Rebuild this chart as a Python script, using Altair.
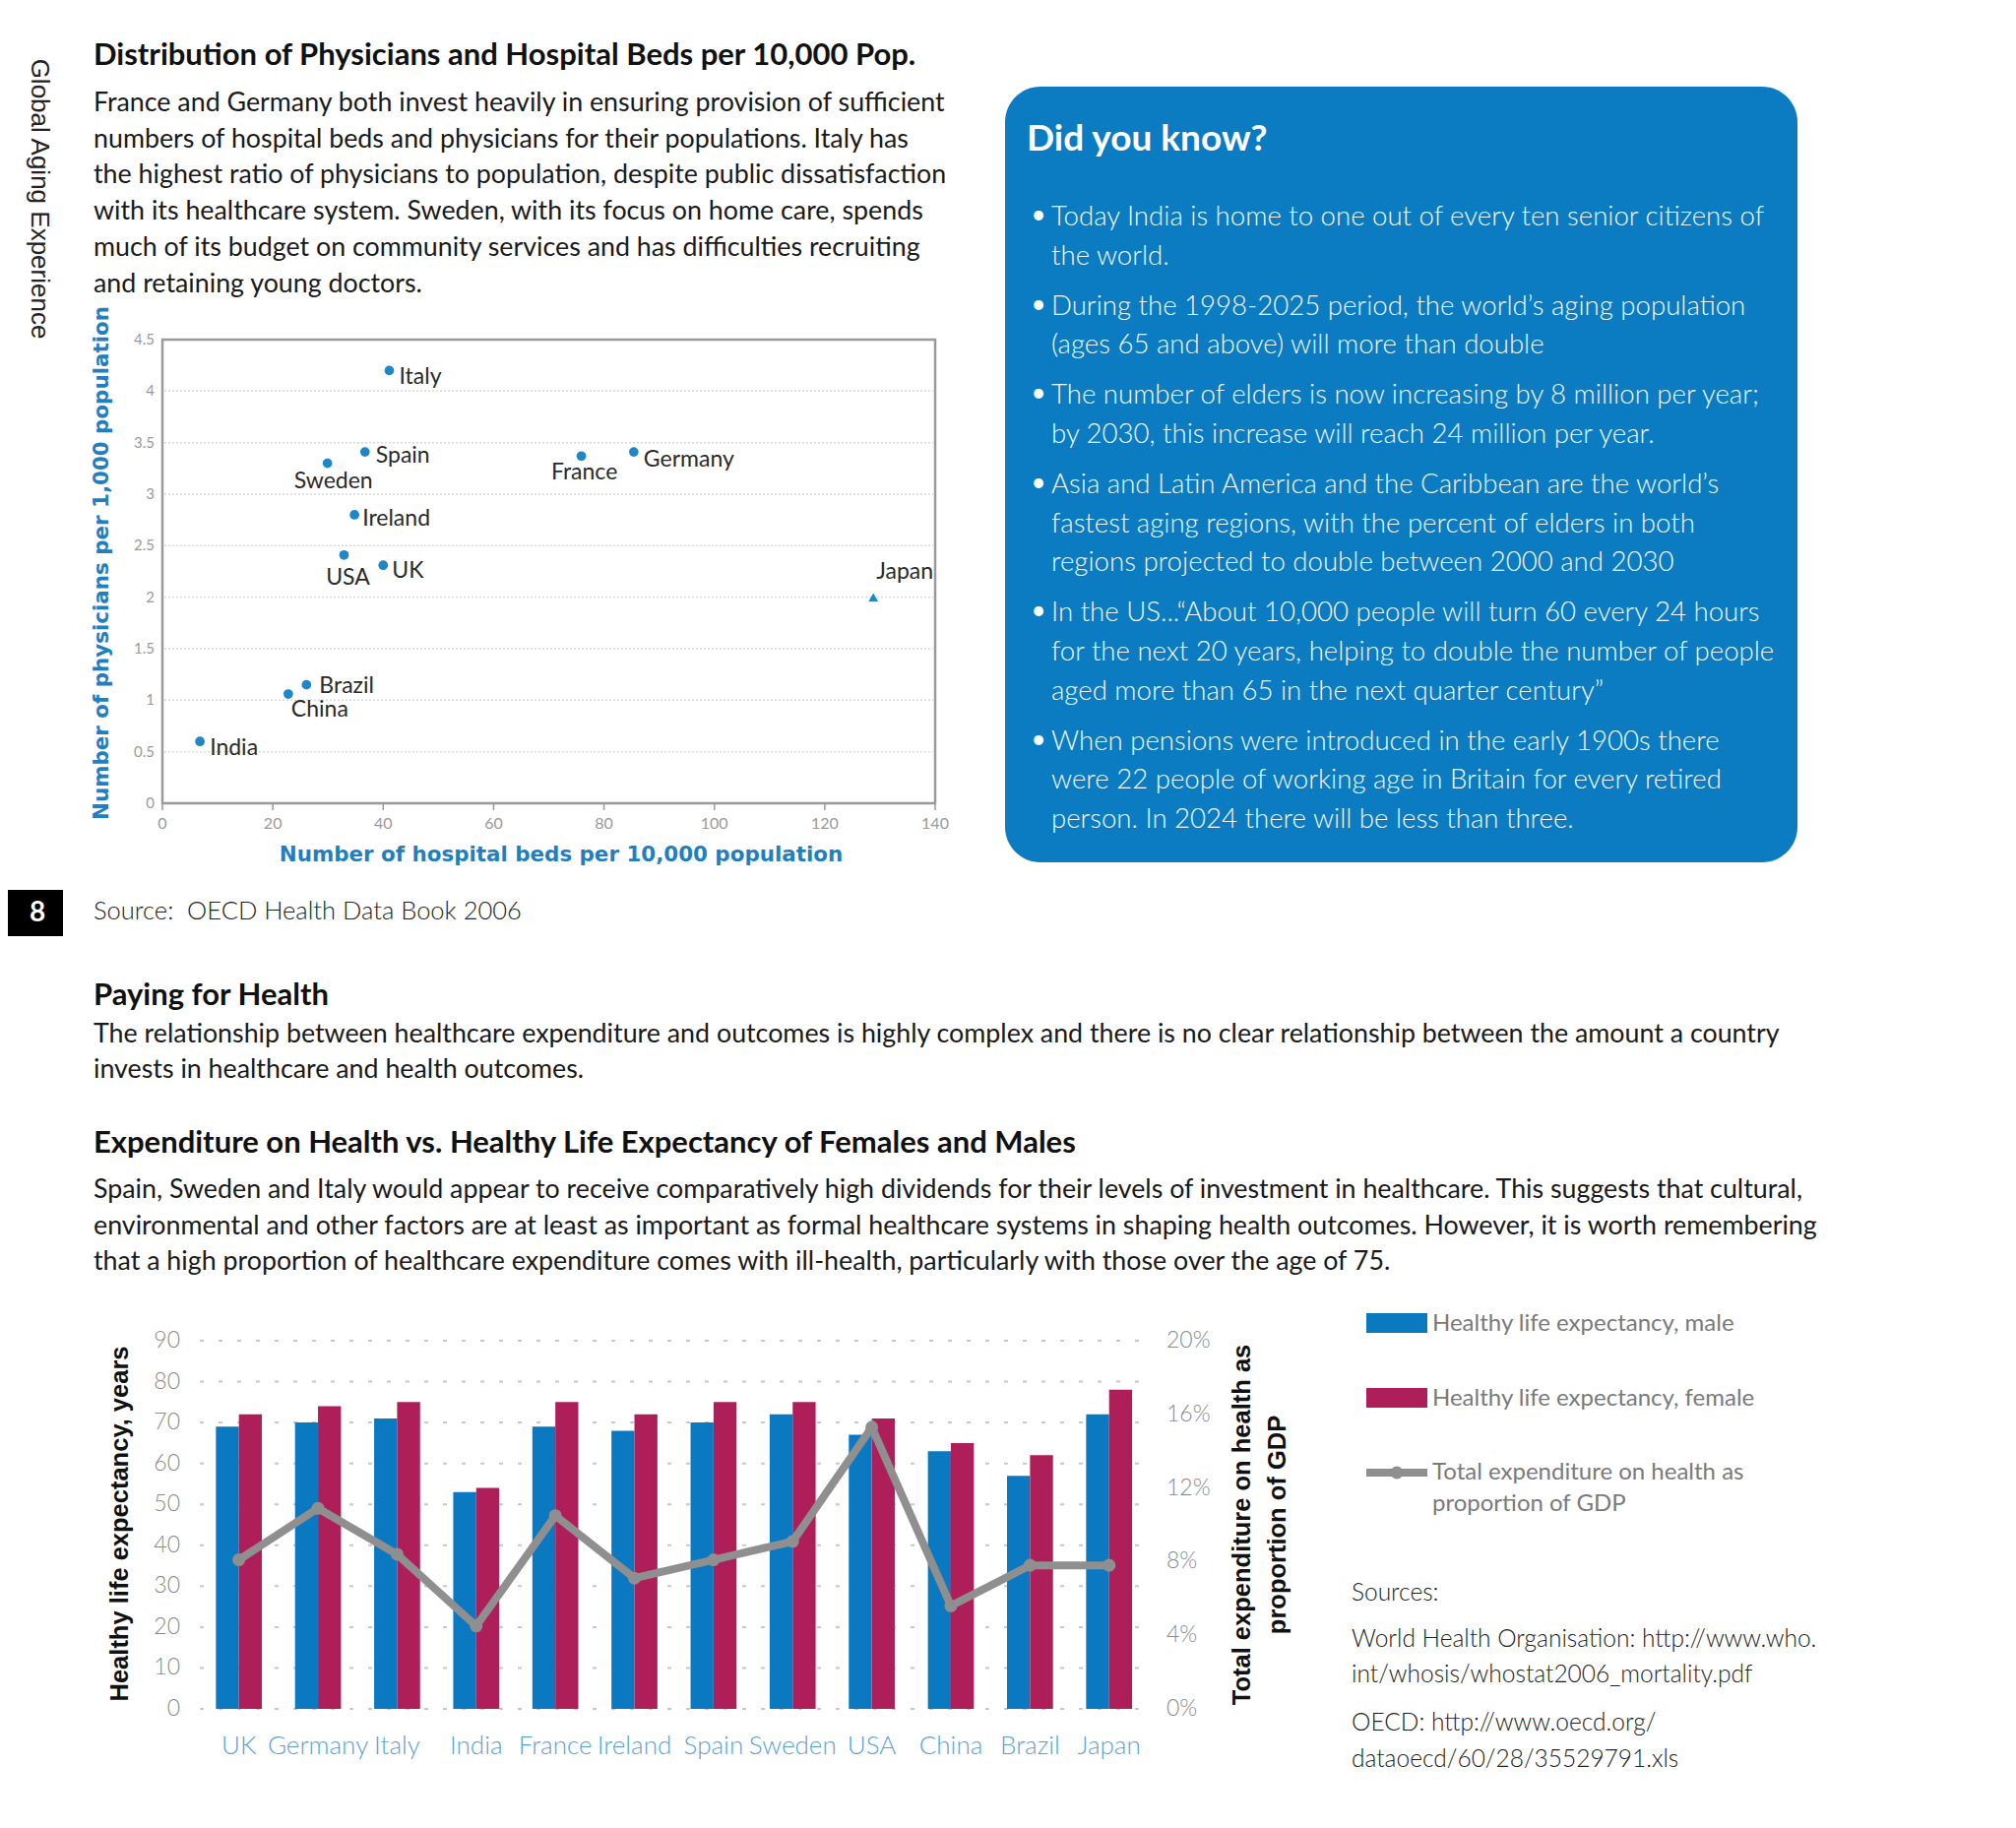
import altair as alt
import pandas as pd

# ---------------- data: physicians vs hospital beds ----------------
sc_country = ["Italy", "Spain", "Sweden", "France", "Germany", "Ireland",
              "USA", "UK", "Japan", "Brazil", "China", "India"]
sc_beds = [41.1, 36.7, 29.9, 75.9, 85.4, 34.8, 32.9, 40.0, 128.8, 26.1, 22.8, 6.8]
sc_phys = [4.20, 3.41, 3.30, 3.37, 3.41, 2.80, 2.41, 2.31, 2.00, 1.15, 1.06, 0.60]
sc_marker = ["circle"] * 8 + ["triangle-up"] + ["circle"] * 3
sc_xticks = [0, 20, 40, 60, 80, 100, 120, 140]
sc_yticks = [0, 0.5, 1, 1.5, 2, 2.5, 3, 3.5, 4, 4.5]
sc_ylabels = ["0", "0.5", "1", "1.5", "2", "2.5", "3", "3.5", "4", "4.5"]

# ---------------- data: life expectancy vs expenditure ----------------
countries = ["UK", "Germany", "Italy", "India", "France", "Ireland",
             "Spain", "Sweden", "USA", "China", "Brazil", "Japan"]
hle_male = [69, 70, 71, 53, 69, 68, 70, 72, 67, 63, 57, 72]
hle_female = [72, 74, 75, 54, 75, 72, 75, 75, 71, 65, 62, 78]
health_exp = [8.1, 10.9, 8.4, 4.5, 10.5, 7.1, 8.1, 9.1, 15.3, 5.6, 7.8, 7.8]
bar_yticks = [0, 10, 20, 30, 40, 50, 60, 70, 80, 90]
exp_ticks = [0, 4, 8, 12, 16, 20]

# ---------------- styling ----------------
M = 8  # page margin
BLUE = "#0a79c2"
RED = "#ae1f5a"
BOX = "#0b7cc2"
GRAY = "#8f8f8f"
DOT = "#1d87c8"
TITLEBLUE = "#1f7fc0"
FONT = "Lato"
BODY = 26.8
HEAD = 31


def T(s, x, y, size=BODY, weight="normal", color="#1a1a1a", font=FONT,
      align="left", angle=0, baseline="middle"):
    kw = dict(align=align, baseline=baseline, font=font, fontSize=size,
              fontWeight=weight, color=color)
    if angle:
        kw["angle"] = angle
    return alt.Chart(pd.DataFrame({"t": [s]})).mark_text(**kw).encode(
        x=alt.value(x - M), y=alt.value(y - M), text="t:N")


def R(x, x2, y, y2, color, **kw):
    return alt.Chart(pd.DataFrame({"a": [0]})).mark_rect(color=color, **kw).encode(
        x=alt.value(x - M), x2=alt.value(x2 - M), y=alt.value(y - M), y2=alt.value(y2 - M))


layers = []

# ---------------- page texts ----------------
layers.append(T("Global Aging Experience", 40, 202, size=26, color="#222",
                font="Liberation Sans", align="center", angle=90))
layers.append(T("Distribution of Physicians and Hospital Beds per 10,000 Pop.", 95, 57,
                size=HEAD, weight="bold", color="#111"))
para1 = [
    "France and Germany both invest heavily in ensuring provision of sufficient",
    "numbers of hospital beds and physicians for their populations. Italy has",
    "the highest ratio of physicians to population, despite public dissatisfaction",
    "with its healthcare system. Sweden, with its focus on home care, spends",
    "much of its budget on community services and has difficulties recruiting",
    "and retaining young doctors.",
]
for i, s in enumerate(para1):
    layers.append(T(s, 95, 105 + i * 36.7))

# page number box and source
layers.append(R(8, 64, 904, 951, "#000000"))
layers.append(T("8", 38, 928, size=28, weight="bold", color="white", align="center"))
layers.append(T("Source:\u00a0 OECD Health Data Book 2006", 95, 926, size=25.5, weight=300, color="#222"))

layers.append(T("Paying for Health", 95, 1012, size=HEAD, weight="bold", color="#111"))
layers.append(T("The relationship between healthcare expenditure and outcomes is highly complex and there is no clear relationship between the amount a country",
                95, 1051))
layers.append(T("invests in healthcare and health outcomes.", 95, 1087))

layers.append(T("Expenditure on Health vs. Healthy Life Expectancy of Females and Males", 95, 1162,
                size=HEAD, weight="bold", color="#111"))
para2 = [
    "Spain, Sweden and Italy would appear to receive comparatively high dividends for their levels of investment in healthcare. This suggests that cultural,",
    "environmental and other factors are at least as important as formal healthcare systems in shaping health outcomes. However, it is worth remembering",
    "that a high proportion of healthcare expenditure comes with ill-health, particularly with those over the age of 75.",
]
for i, s in enumerate(para2):
    layers.append(T(s, 95, 1209 + i * 36.5))

# ---------------- "Did you know?" box ----------------
layers.append(R(1021, 1826, 88, 876, BOX, cornerRadius=36))
layers.append(T("Did you know?", 1043, 142, size=37, weight="bold", color="white"))
bullets = [
    ["Today India is home to one out of every ten senior citizens of", "the world."],
    ["During the 1998-2025 period, the world\u2019s aging population",
     "(ages 65 and above) will more than double"],
    ["The number of elders is now increasing by 8 million per year;",
     "by 2030, this increase will reach 24 million per year."],
    ["Asia and Latin America and the Caribbean are the world\u2019s",
     "fastest aging regions, with the percent of elders in both",
     "regions projected to double between 2000 and 2030"],
    ["In the US...\u201cAbout 10,000 people will turn 60 every 24 hours",
     "for the next 20 years, helping to double the number of people",
     "aged more than 65 in the next quarter century\u201d"],
    ["When pensions were introduced in the early 1900s there",
     "were 22 people of working age in Britain for every retired",
     "person. In 2024 there will be less than three."],
]
yy = 221
for b in bullets:
    layers.append(T("\u2022", 1055, yy - 2, size=26, color="white", align="center"))
    for line in b:
        layers.append(T(line, 1068, yy, size=27.6, weight=300, color="#f2f8fd"))
        yy += 39.8
    yy += 11

# ---------------- scatter: physicians vs beds ----------------
SX = alt.Scale(domain=[0, 140], range=[165 - M, 950 - M], nice=False, zero=False)
SY = alt.Scale(domain=[0, 4.5], range=[816 - M, 345 - M], nice=False, zero=False)

sc_df = pd.DataFrame({"country": sc_country, "beds": sc_beds, "phys": sc_phys,
                      "marker": sc_marker})
grid_df = pd.DataFrame({"v": sc_yticks[1:-1]})
layers.append(alt.Chart(grid_df).mark_rule(color="#d9d9d9", strokeWidth=1.5, strokeDash=[2, 2]).encode(
    y=alt.Y("v:Q", scale=SY, axis=None), x=alt.value(167 - M), x2=alt.value(948 - M)))
frame_df = pd.DataFrame({"x0": [0], "x1": [140], "y0": [0], "y1": [4.5]})
layers.append(alt.Chart(frame_df).mark_rect(fillOpacity=0, stroke="#9a9a9a", strokeWidth=2.5).encode(
    x=alt.X("x0:Q", scale=SX, axis=None), x2="x1:Q",
    y=alt.Y("y0:Q", scale=SY, axis=None), y2="y1:Q"))
xt_df = pd.DataFrame({"v": sc_xticks, "lbl": [str(v) for v in sc_xticks]})
layers.append(alt.Chart(xt_df).mark_rule(color="#9a9a9a", strokeWidth=1.5).encode(
    x=alt.X("v:Q", scale=SX, axis=None), y=alt.value(816 - M), y2=alt.value(823 - M)))
layers.append(alt.Chart(xt_df).mark_text(font=FONT, fontSize=16, color="#9a9a9a", baseline="middle").encode(
    x=alt.X("v:Q", scale=SX, axis=None), y=alt.value(837 - M), text="lbl:N"))
yt_df = pd.DataFrame({"v": sc_yticks, "lbl": sc_ylabels})
layers.append(alt.Chart(yt_df).mark_text(font=FONT, fontSize=15, color="#9a9a9a", align="right",
                                         baseline="middle").encode(
    y=alt.Y("v:Q", scale=SY, axis=None), x=alt.value(157 - M), text="lbl:N"))
layers.append(alt.Chart(sc_df).mark_point(filled=True, size=95, opacity=1, color=DOT).encode(
    x=alt.X("beds:Q", scale=SX, axis=None), y=alt.Y("phys:Q", scale=SY, axis=None),
    shape=alt.Shape("marker:N", scale=None)))
label_pos = {
    "Italy": ("left", 10, 7), "Spain": ("left", 11, 4), "Sweden": ("center", 6, 18),
    "France": ("center", 3, 17), "Germany": ("left", 10, 8), "Ireland": ("left", 8, 4),
    "USA": ("center", 4, 23), "UK": ("left", 9, 6), "Japan": ("center", 32, -26),
    "Brazil": ("left", 13, 1), "China": ("left", 3, 16), "India": ("left", 10, 7),
}
for c in sc_country:
    al, dx, dy = label_pos[c]
    layers.append(alt.Chart(sc_df).transform_filter(alt.datum.country == c).mark_text(
        font=FONT, fontSize=23, color="#2a2a2a", align=al, baseline="middle", dx=dx, dy=dy).encode(
        x=alt.X("beds:Q", scale=SX, axis=None), y=alt.Y("phys:Q", scale=SY, axis=None),
        text="country:N"))
layers.append(T("Number of physicians per 1,000 population", 104, 572, size=21.4, weight="bold",
                color=TITLEBLUE, font="DejaVu Sans", align="center", angle=270))
layers.append(T("Number of hospital beds per 10,000 population", 570, 869, size=21.4, weight="bold",
                color=TITLEBLUE, font="DejaVu Sans", align="center"))

# ---------------- bar + line chart ----------------
BX = alt.Scale(domain=countries, range=[202.5 - M, 1166.9 - M], paddingInner=0.419, paddingOuter=0.2095)
BY = alt.Scale(domain=[0, 90], range=[1736 - M, 1362 - M], nice=False, zero=False)
BY2 = alt.Scale(domain=[0, 20], range=[1736 - M, 1362 - M], nice=False, zero=False)

bg_df = pd.DataFrame({"v": bar_yticks, "lbl": [str(v) for v in bar_yticks]})
layers.append(alt.Chart(bg_df).mark_rule(color="#c8c8c8", strokeWidth=2, strokeDash=[4, 15]).encode(
    y=alt.Y("v:Q", scale=BY, axis=None), x=alt.value(203 - M), x2=alt.value(1165 - M)))
layers.append(alt.Chart(bg_df).mark_text(font=FONT, fontSize=23, fontWeight=300, color="#8a8a8a",
                                         align="right", baseline="middle").encode(
    y=alt.Y("v:Q", scale=BY, axis=None), x=alt.value(183 - M), text="lbl:N"))
ex_df = pd.DataFrame({"v": exp_ticks, "lbl": [f"{v}%" for v in exp_ticks]})
layers.append(alt.Chart(ex_df).mark_text(font=FONT, fontSize=23, fontWeight=300, color="#8a8a8a",
                                         align="left", baseline="middle").encode(
    y=alt.Y("v:Q", scale=BY2, axis=None), x=alt.value(1185 - M), text="lbl:N"))

bar_df = pd.DataFrame({
    "country": countries * 2,
    "sex": ["male"] * len(countries) + ["female"] * len(countries),
    "value": hle_male + hle_female,
})
layers.append(alt.Chart(bar_df).mark_bar().encode(
    x=alt.X("country:N", sort=countries, scale=BX, axis=None),
    xOffset=alt.XOffset("sex:N", sort=["male", "female"],
                        scale=alt.Scale(domain=["male", "female"], paddingInner=0, paddingOuter=0)),
    y=alt.Y("value:Q", scale=BY, axis=None),
    color=alt.Color("sex:N", scale=alt.Scale(domain=["male", "female"], range=[BLUE, RED]), legend=None),
))
exp_df = pd.DataFrame({"country": countries, "exp": health_exp})
layers.append(alt.Chart(exp_df).mark_line(color=GRAY, strokeWidth=8).encode(
    x=alt.X("country:N", sort=countries, scale=BX, axis=None),
    y=alt.Y("exp:Q", scale=BY2, axis=None)))
layers.append(alt.Chart(exp_df).mark_circle(color=GRAY, size=170, opacity=1).encode(
    x=alt.X("country:N", sort=countries, scale=BX, axis=None),
    y=alt.Y("exp:Q", scale=BY2, axis=None)))
cat_df = pd.DataFrame({"country": countries})
layers.append(alt.Chart(cat_df).mark_text(font=FONT, fontSize=26, fontWeight=300, color="#5a9fd8",
                                          baseline="middle").encode(
    x=alt.X("country:N", sort=countries, scale=BX, axis=None), y=alt.value(1774 - M),
    text="country:N"))

layers.append(T("Healthy life expectancy, years", 122, 1548, size=25.5, weight="bold", color="#111",
                font="Liberation Sans", align="center", angle=270))
layers.append(T("Total expenditure on health as", 1262, 1549, size=25.5, weight="bold", color="#111",
                font="Liberation Sans", align="center", angle=270))
layers.append(T("proportion of GDP", 1298, 1549, size=25.5, weight="bold", color="#111",
                font="Liberation Sans", align="center", angle=270))

# legend
layers.append(R(1388, 1450, 1334, 1354, BLUE))
layers.append(T("Healthy life expectancy, male", 1455, 1345, size=24, color="#7a7a7a"))
layers.append(R(1388, 1450, 1410, 1430, RED))
layers.append(T("Healthy life expectancy, female", 1455, 1421, size=24, color="#7a7a7a"))
layers.append(alt.Chart(pd.DataFrame({"a": [0]})).mark_rule(color=GRAY, strokeWidth=8).encode(
    x=alt.value(1388 - M), x2=alt.value(1450 - M), y=alt.value(1496 - M)))
layers.append(alt.Chart(pd.DataFrame({"a": [0]})).mark_circle(color=GRAY, size=170, opacity=1).encode(
    x=alt.value(1419 - M), y=alt.value(1496 - M)))
layers.append(T("Total expenditure on health as", 1455, 1496, size=24, color="#7a7a7a"))
layers.append(T("proportion of GDP", 1455, 1528, size=24, color="#7a7a7a"))

# sources
src = [("Sources:", 1619), ("World Health Organisation: http://www.who.", 1666),
       ("int/whosis/whostat2006_mortality.pdf", 1702), ("OECD: http://www.oecd.org/", 1751),
       ("dataoecd/60/28/35529791.xls", 1788)]
for s, y in src:
    layers.append(T(s, 1373, y, size=24.5, weight=300, color="#222"))

chart = alt.layer(*layers).resolve_scale(
    x="independent", y="independent", color="independent", shape="independent"
).properties(
    width=2032, height=1841, padding=0, autosize=alt.AutoSizeParams(type="none"),
    background="white",
).configure_view(stroke=None)

chart.save("out.html", embed_options={"renderer": "svg", "actions": False})
